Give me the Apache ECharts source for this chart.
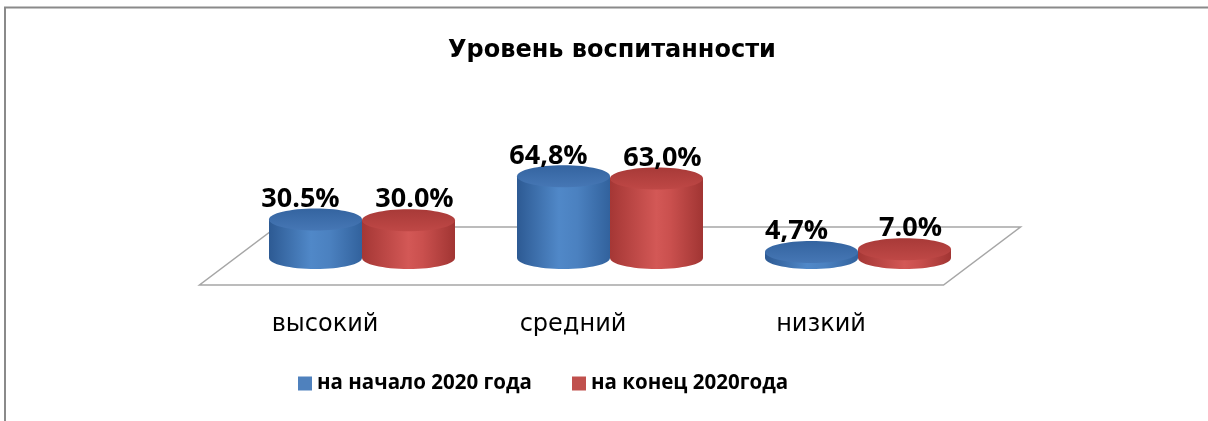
<!DOCTYPE html>
<html>
<head>
<meta charset="utf-8">
<script src="https://cdn.jsdelivr.net/npm/echarts@6/dist/echarts.min.js"></script>
<style>
  html, body { margin: 0; background: #fff; }
  #chart { width: 1208px; height: 421px; }
</style>
</head>
<body>
<div id="chart"></div>
<script>
const categories = ['высокий', 'средний', 'низкий'];
const seriesNames = ['на начало 2020 года', 'на конец 2020года'];
const startValues = [30.5, 64.8, 4.7];
const endValues = [30.0, 63.0, 7.0];
const startLabels = ['30.5%', '64,8%', '4,7%'];
const endLabels = ['30.0%', '63,0%', '7.0%'];

const blue = {
  legend: '#4f81bd',
  body: [
    { offset: 0, color: '#2d5a93' },
    { offset: 0.45, color: '#5088c8' },
    { offset: 0.65, color: '#4b81c0' },
    { offset: 1, color: '#32629d' }
  ],
  top: [
    { offset: 0, color: '#3464a0' },
    { offset: 1, color: '#4677b5' }
  ]
};
const red = {
  legend: '#c0504d',
  body: [
    { offset: 0, color: '#a53735' },
    { offset: 0.5, color: '#d35856' },
    { offset: 0.65, color: '#ca504e' },
    { offset: 1, color: '#a13533' }
  ],
  top: [
    { offset: 0, color: '#a83a38' },
    { offset: 1, color: '#bf4846' }
  ]
};

function cylinder(side, pal, labels, labelDx) {
  return function (params, api) {
    const idx = api.value(0);
    const top = api.coord([idx, api.value(1)]);
    const base = api.coord([idx, 0]);
    const band = api.size([1, 0])[0];
    const rx = band * 0.1875;
    const ry = 11;
    const cx = top[0] + side * rx;
    const bodyFill = new echarts.graphic.LinearGradient(0, 0, 1, 0, pal.body);
    const topFill = new echarts.graphic.LinearGradient(0, 0, 0, 1, pal.top);
    return {
      type: 'group',
      children: [
        { type: 'ellipse', shape: { cx: cx, cy: base[1], rx: rx, ry: ry }, style: { fill: bodyFill } },
        { type: 'rect', shape: { x: cx - rx, y: top[1], width: rx * 2, height: base[1] - top[1] }, style: { fill: bodyFill } },
        { type: 'ellipse', shape: { cx: cx, cy: top[1], rx: rx, ry: ry }, style: { fill: topFill } },
        {
          type: 'text',
          z2: 10,
          style: {
            text: labels[params.dataIndex],
            x: cx + labelDx,
            y: top[1] - ry + 4,
            align: 'center',
            verticalAlign: 'bottom',
            font: 'bold 27px "Open Sans"',
            fill: '#000'
          }
        }
      ]
    };
  };
}

const chart = echarts.init(document.getElementById('chart'));

chart.setOption({
  animation: false,
  title: {
    text: 'Уровень воспитанности',
    left: 607,
    textAlign: 'center',
    top: 34,
    textStyle: { fontFamily: 'DejaVu Sans', fontWeight: 'bold', fontSize: 24, color: '#000' }
  },
  legend: {
    data: seriesNames,
    top: 368,
    left: 293,
    icon: 'rect',
    itemWidth: 14,
    itemHeight: 14,
    itemGap: 40,
    textStyle: { fontFamily: '"Liberation Sans Narrow", "Open Sans"', fontWeight: 'bold', fontSize: 20.5, color: '#000' }
  },
  graphic: [{
    type: 'polyline',
    shape: { points: [[5, 421], [5, 7.5], [1208, 7.5]] },
    style: { stroke: '#8a8a8a', lineWidth: 2, fill: null }
  }],
  grid: { left: 238, right: 226, top: 132, bottom: 163 },
  xAxis: {
    type: 'category',
    data: categories,
    axisLine: { show: false },
    axisTick: { show: false },
    axisLabel: {
      margin: 55,
      padding: [0, 74, 0, 0],
      fontFamily: 'DejaVu Sans',
      fontSize: 24,
      color: '#000'
    }
  },
  yAxis: { type: 'value', min: 0, max: 100, show: false },
  series: [
    {
      type: 'custom',
      name: 'floor',
      silent: true,
      z: 1,
      data: [[0]],
      renderItem: function (params, api) {
        const cs = params.coordSys;
        const y0 = api.coord([0, 0])[1];
        const s = 38.5;
        return {
          type: 'polygon',
          shape: {
            points: [
              [cs.x - s, y0 + 27],
              [cs.x + cs.width - s, y0 + 27],
              [cs.x + cs.width + s, y0 - 31],
              [cs.x + s, y0 - 31]
            ]
          },
          style: { fill: '#fff', stroke: '#a6a6a6', lineWidth: 1.5 }
        };
      }
    },
    {
      type: 'custom',
      name: seriesNames[0],
      z: 2,
      itemStyle: { color: blue.legend },
      data: startValues.map((v, i) => [i, v]),
      renderItem: cylinder(-1, blue, startLabels, -15)
    },
    {
      type: 'custom',
      name: seriesNames[1],
      z: 3,
      itemStyle: { color: red.legend },
      data: endValues.map((v, i) => [i, v]),
      renderItem: cylinder(1, red, endLabels, 6)
    }
  ]
});
</script>
</body>
</html>
